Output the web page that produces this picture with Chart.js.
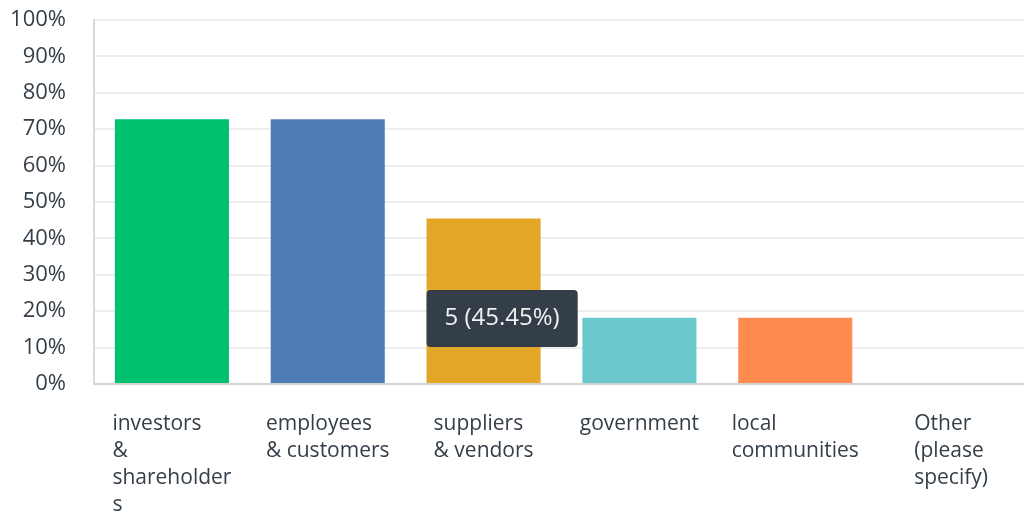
<!DOCTYPE html>
<html>
<head>
<meta charset="utf-8">
<script src="https://cdn.jsdelivr.net/npm/chart.js@4/dist/chart.umd.min.js"></script>
<style>
  html, body { margin: 0; padding: 0; background: #fff; overflow: hidden; }
  #wrap { position: relative; width: 1029px; height: 511px; }
</style>
</head>
<body>
<div id="wrap"><canvas id="chart-stakeholders"></canvas></div>
<script>
// answer choices, one line per entry as they wrap under the axis
var choices = [
    ["investors", "&", "shareholder", "s"],
    ["employees", "& customers"],
    ["suppliers", "& vendors"],
    ["government"],
    ["local", "communities"],
    ["Other", "(please", "specify)"]
];
var responses = [8, 8, 5, 2, 2, 0];
var percents = [72.73, 72.73, 45.45, 18.18, 18.18, 0];
var barColors = ['#00bf6f', '#507cb6', '#e3a626', '#6bc8cd', '#ff8b4f', '#7d8b94'];
var yTicks = [0, 10, 20, 30, 40, 50, 60, 70, 80, 90, 100];

var fontFamily = "'Open Sans', sans-serif";
var textColor = '#333e48';

// tooltip pinned to the left edge of the bar, level with the hover point
var tipLevel = 25.8;
Chart.Tooltip.positioners.pinned = function (items) {
    if (!items.length) return false;
    var bar = items[0].element;
    var y = this.chart.scales.y.getPixelForValue(tipLevel);
    return { x: bar.x - bar.width / 2 + 4, y: y, xAlign: 'left', yAlign: 'top' };
};

// multi-line category labels, block centred on the bar, lines left aligned
var choiceLabels = {
    id: 'choiceLabels',
    afterDraw: function (chart) {
        var ctx = chart.ctx;
        var xScale = chart.scales.x;
        ctx.save();
        ctx.font = '21px ' + fontFamily;
        ctx.fillStyle = textColor;
        ctx.textAlign = 'left';
        ctx.textBaseline = 'middle';
        choices.forEach(function (lines, i) {
            var w = 0;
            lines.forEach(function (l) { w = Math.max(w, ctx.measureText(l).width); });
            var left = xScale.getPixelForValue(i) - w / 2;
            lines.forEach(function (l, k) {
                ctx.fillText(l, left, chart.chartArea.bottom + 40 + k * 27);
            });
        });
        ctx.restore();
    }
};

var ctxStake = document.getElementById('chart-stakeholders').getContext('2d');

var chartStake = new Chart(ctxStake, {
    type: 'bar',
    data: {
        labels: choices,
        datasets: [{
            data: percents,
            backgroundColor: barColors,
            hoverBackgroundColor: barColors,
            borderWidth: 0,
            barPercentage: 0.732,
            categoryPercentage: 1
        }]
    },
    options: {
        responsive: true,
        maintainAspectRatio: false,
        animation: false,
        events: [],
        layout: { padding: { top: 20, bottom: 127, left: 0, right: 0 } },
        scales: {
            x: {
                grid: { display: false },
                border: { color: '#d3d3d3', width: 2 },
                ticks: { display: false },
                afterFit: function (scale) { scale.height = 0; }
            },
            y: {
                min: 0,
                max: 100,
                afterBuildTicks: function (scale) {
                    scale.ticks = yTicks.map(function (v) { return { value: v }; });
                },
                afterFit: function (scale) {
                    scale.width = 94;
                    scale.paddingTop = 0;
                    scale.paddingBottom = 0;
                },
                grid: { color: '#ededed', lineWidth: 2, drawTicks: false },
                border: { color: '#d9d9d9', width: 2 },
                ticks: {
                    padding: 28,
                    color: textColor,
                    font: { family: fontFamily, size: 22 },
                    callback: function (v) { return v + '%'; }
                }
            }
        },
        plugins: {
            legend: { display: false },
            tooltip: {
                enabled: true,
                position: 'pinned',
                backgroundColor: '#333e48',
                bodyColor: '#f2f2f2',
                bodyFont: { family: fontFamily, size: 24 },
                padding: { left: 18, right: 18, top: 14, bottom: 14 },
                cornerRadius: 4,
                caretSize: 0,
                caretPadding: 0,
                displayColors: false,
                callbacks: {
                    title: function () { return ''; },
                    label: function (item) {
                        return responses[item.dataIndex] + ' (' + percents[item.dataIndex].toFixed(2) + '%)';
                    }
                }
            }
        }
    },
    plugins: [choiceLabels]
});

chartStake.tooltip.setActiveElements([{ datasetIndex: 0, index: 2 }], { x: 0, y: 0 });
chartStake.update();
</script>
</body>
</html>
